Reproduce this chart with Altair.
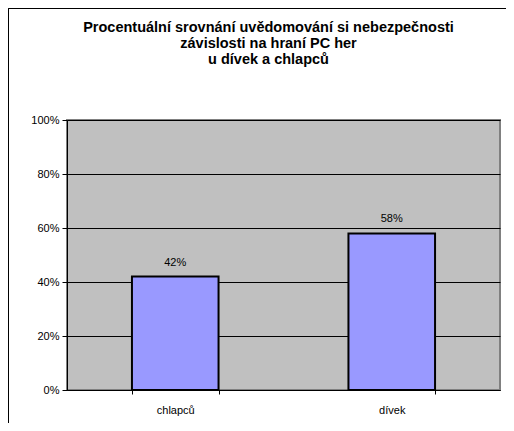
import altair as alt
import pandas as pd

categories = ["chlapců", "dívek"]
values = [0.42, 0.58]
title_lines = ["Procentuální srovnání uvědomování si nebezpečnosti",
               "závislosti na hraní PC her",
               "u dívek a chlapců"]

df = pd.DataFrame({"kategorie": categories, "podil": values})
FONT = "Liberation Sans"

x = alt.X("kategorie:N", sort=categories, title=None,
          scale=alt.Scale(paddingInner=0.6, paddingOuter=0.3),
          axis=alt.Axis(labelAngle=0, labelFontSize=11, labelFont=FONT, labelColor="#000",
                        labelPadding=10, tickBand="extent", tickSize=4, tickColor="#000",
                        domainColor="#000", grid=False))
y = alt.Y("podil:Q", title=None,
          scale=alt.Scale(domain=[0, 1], nice=False),
          axis=alt.Axis(values=[0, 0.2, 0.4, 0.6, 0.8, 1.0], format=".0%",
                        labelFontSize=11, labelFont=FONT, labelColor="#000",
                        tickSize=5, tickColor="#000", domainColor="#000",
                        labelPadding=3, grid=True, gridColor="#000", gridOpacity=1,
                        gridWidth=1))

frame = alt.Chart(df).mark_rect(fill=None, stroke="#000", strokeWidth=1, clip=False).encode(
    x=alt.value(-58.5), x2=alt.value(600), y=alt.value(-111.5), y2=alt.value(500))

bars = alt.Chart(df).mark_bar(color="#9999FF", stroke="#000", strokeWidth=2).encode(x=x, y=y)
labels = alt.Chart(df).mark_text(baseline="bottom", dy=-9, fontSize=11, font=FONT, color="#000").encode(
    x=alt.X("kategorie:N", sort=categories), y="podil:Q", text=alt.Text("podil:Q", format=".0%"))

chart = alt.layer(frame, bars, labels).properties(
    width=433, height=270,
    title=alt.TitleParams(text=title_lines, fontSize=14.5, fontWeight="bold", font=FONT,
                          color="#000", lineHeight=16, offset=-59, dx=-15, anchor="middle",
                          frame="group"),
    autosize=alt.AutoSizeParams(type="none"),
    padding={"left": 59, "top": 112, "right": 6, "bottom": 33},
).configure_view(fill="#C0C0C0", stroke="#808080", strokeWidth=2)

chart.save("out.html", embed_options={"renderer": "svg", "actions": False})
